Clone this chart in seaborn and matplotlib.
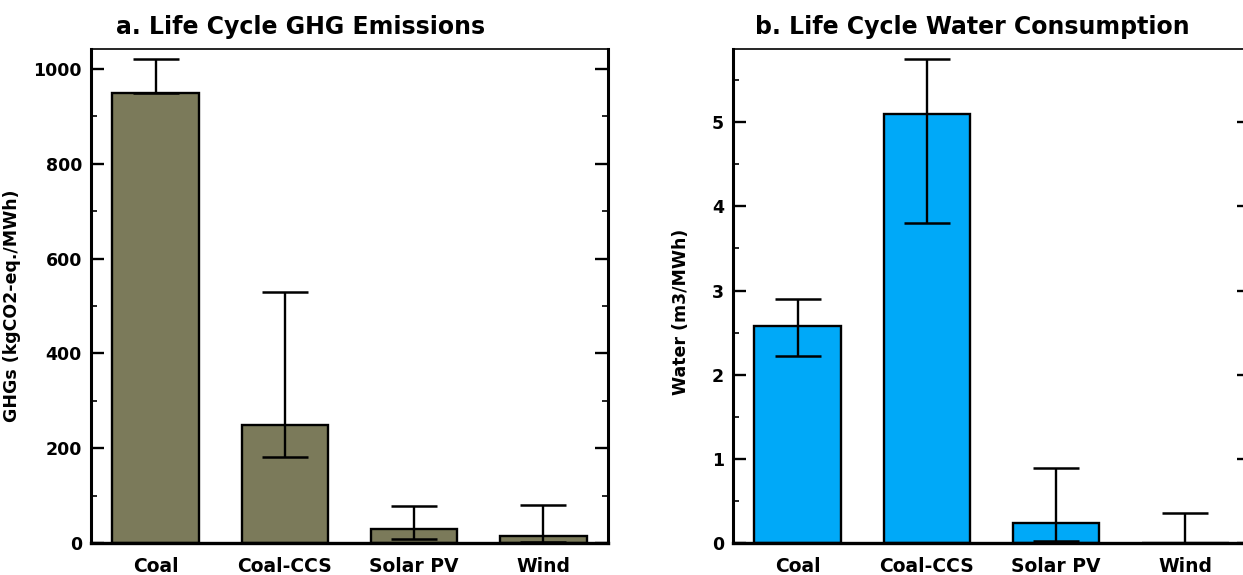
import numpy as np
import pandas as pd
import matplotlib
matplotlib.use("Agg")
import matplotlib.pyplot as plt
from matplotlib.ticker import MultipleLocator
import seaborn as sns

# ---- data ----
technologies = ["Coal", "Coal-CCS", "Solar PV", "Wind"]

ghg_values = [950, 248, 29, 15]
ghg_low = [950, 181, 9, 2]
ghg_high = [1020, 530, 79, 80]

water_values = [2.58, 5.10, 0.24, 0.005]
water_low = [2.22, 3.80, 0.02, 0.0]
water_high = [2.90, 5.75, 0.89, 0.36]

titles = ["a. Life Cycle GHG Emissions", "b. Life Cycle Water Consumption"]
ylabels = ["GHGs (kgCO2-eq./MWh)", "Water (m3/MWh)"]

sns.set_style("ticks")
plt.rcParams["font.family"] = ["DejaVu Sans"]
plt.rcParams["font.weight"] = "bold"
for k in ["text.color", "axes.labelcolor", "xtick.color", "ytick.color", "axes.edgecolor"]:
    plt.rcParams[k] = "black"

W, H = 1243, 575
fig = plt.figure(figsize=(W / 100, H / 100), dpi=100)

def px_axes(x0, y0, x1, y1):
    return fig.add_axes([x0 / W, 1 - y1 / H, (x1 - x0) / W, (y1 - y0) / H])

ax1 = px_axes(91, 49, 608, 543)
ax2 = px_axes(733, 49, 1250, 543)

panels = [
    (ax1, ghg_values, ghg_low, ghg_high, "#7B7A5A", (0, 1042), 200, 100, -0.135, 0.48, 0.242),
    (ax2, water_values, water_low, water_high, "#00A9F8", (0, 5.87), 1, 0.5, -0.083, 0.467, 0.782),
]

for i, (ax, vals, lo, hi, col, ylim, major, minor, lx, ly, tx) in enumerate(panels):
    df = pd.DataFrame({"tech": technologies, "val": vals})
    sns.barplot(data=df, x="tech", y="val", ax=ax, color=col, saturation=1,
                edgecolor="black", linewidth=1.7, width=0.67, errorbar=None)
    v = np.array(vals)
    yerr = np.vstack([v - np.array(lo), np.array(hi) - v])
    ax.errorbar(np.arange(len(technologies)), v, yerr=yerr, fmt="none",
                ecolor="black", elinewidth=1.7, capsize=16.5, capthick=1.8, zorder=3)
    ax.set_ylim(*ylim)
    ax.set_xlim(-0.5, len(technologies) - 0.5)
    ax.yaxis.set_major_locator(MultipleLocator(major))
    ax.yaxis.set_minor_locator(MultipleLocator(minor))
    if major >= 1 and major < 10:
        ax.set_yticklabels([f"{int(t)}" for t in ax.get_yticks()])
    ax.tick_params(axis="y", which="both", direction="in", left=True, right=True,
                   labelsize=12.5, pad=6.5, colors="black")
    ax.tick_params(axis="y", which="major", length=9.5, width=1.7)
    ax.tick_params(axis="y", which="minor", length=4.5, width=1.2)
    ax.tick_params(axis="x", which="both", length=0, labelsize=13.5, pad=10, colors="black")
    for lab in ax.get_xticklabels() + ax.get_yticklabels():
        lab.set_fontweight("bold")
        lab.set_color("black")
    ax.set_xlabel("")
    ax.set_ylabel(ylabels[i], fontsize=12.5, fontweight="bold", color="black")
    ax.yaxis.set_label_coords(lx, ly)
    ax.spines["left"].set_linewidth(2.2)
    ax.spines["bottom"].set_linewidth(2.4)
    ax.spines["right"].set_linewidth(2.2)
    ax.spines["top"].set_linewidth(1.2)
    for s in ax.spines.values():
        s.set_color("black")
        s.set_visible(True)
    fig.text(tx, 1 - 27 / H, titles[i], ha="center", va="center",
             fontsize=17, fontweight="bold", color="black")

fig.savefig("out.png", dpi=100)
